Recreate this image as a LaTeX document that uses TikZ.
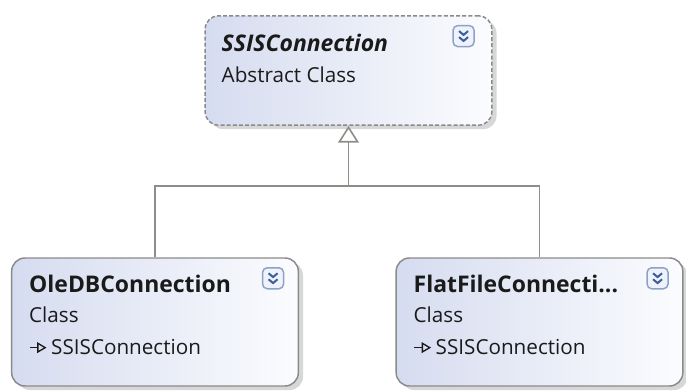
\documentclass[tikz,border=0pt]{standalone}
\usepackage{fontspec}
\setmainfont{Open Sans}
\usetikzlibrary{arrows.meta, positioning, shadows}
\definecolor{boxleft}{HTML}{D6DCF0}
\definecolor{boxright}{HTML}{FBFCFE}
\definecolor{boxline}{HTML}{8A8A8A}
\definecolor{linkline}{HTML}{8E8E88}
\definecolor{iconline}{HTML}{8FA2C6}
\definecolor{iconfill}{HTML}{EEF2FA}
\definecolor{iconmark}{HTML}{3F5C9C}
\definecolor{shadowgray}{HTML}{BDBDBD}
\definecolor{textdark}{HTML}{1A1A1A}
\newcommand{\Inherits}{\tikz[baseline=-0.6ex]\draw[line width=1pt, -{Triangle[open, length=7pt, width=8pt]}] (0,0) -- (12.5pt,0);\hspace{3pt}}
\tikzset{
    expander/.pic = {
    \draw[iconline, fill=iconfill, line width=1.1pt, rounded corners=3.5pt] (-10.5,-10.5) rectangle (10.5,10.5);
    \draw[iconmark, line width=1.5pt] (-4.5,-5) -- (0,-1.2) -- (4.5,-5);
    \draw[iconmark, line width=1.5pt] (-4.5,1) -- (0,4.8) -- (4.5,1);
    },
    classbox/.style={rectangle, rounded corners=10pt, draw=boxline, line width=1.1pt,
      left color=boxleft, right color=boxright, inner sep=0pt,
      minimum width=215pt, minimum height=96pt,
      drop shadow={shadow xshift=3.5pt, shadow yshift=-3pt, fill=shadowgray, opacity=0.6}},
    abstractbox/.style={classbox, dash pattern=on 3pt off 1.6pt, minimum height=82pt},
    title/.style={anchor=base west, inner sep=0pt, text=textdark, font=\fontsize{17.2}{20}\selectfont\bfseries},
    kind/.style={anchor=base west, inner sep=0pt, text=textdark, font=\fontsize{15.5}{18}\selectfont},
    link/.style={draw=linkline, line width=1.2pt},
}
\begin{document}
\begin{tikzpicture}[x=0.75pt, y=-0.75pt]
    \useasboundingbox (0,0) rectangle (686,390);

    % base class
    \node[abstractbox] (base) at (348.5,70.5) {};
    \node[title, font=\fontsize{17.2}{20}\selectfont\bfseries\itshape] (baseName) at ([shift={(17,36)}]base.north west) {SSISConnection};
    \node[kind] (baseKind) at ([shift={(17,67)}]base.north west) {Abstract Class};
    \pic at ([shift={(-29,21)}]base.north east) {expander};

    % derived classes
    \node[classbox] (oledb) at (155,322) {};
    \node[title] (oledbName) at ([shift={(18,35)}]oledb.north west) {OleDBConnection};
    \node[kind] (oledbKind) at ([shift={(18,65)}]oledb.north west) {Class};
    \node[kind] (oledbBase) at ([shift={(18,97)}]oledb.north west) {\Inherits SSISConnection};
    \pic at ([shift={(-26,21)}]oledb.north east) {expander};

    \node[classbox] (flatfile) at (539.5,322) {};
    \node[title] (flatfileName) at ([shift={(18,35)}]flatfile.north west) {FlatFileConnecti...};
    \node[kind] (flatfileKind) at ([shift={(18,65)}]flatfile.north west) {Class};
    \node[kind] (flatfileBase) at ([shift={(18,97)}]flatfile.north west) {\Inherits SSISConnection};
    \pic at ([shift={(-26,21)}]flatfile.north east) {expander};

    % inheritance
    \coordinate (fork) at ([shift={(0,60)}]base.south);
    \draw[link] (oledb.north) |- (fork) -| (flatfile.north);
    \draw[link, -{Triangle[open, length=12.5pt, width=15.5pt]}] (fork) -- (base.south);
\end{tikzpicture}
\end{document}
